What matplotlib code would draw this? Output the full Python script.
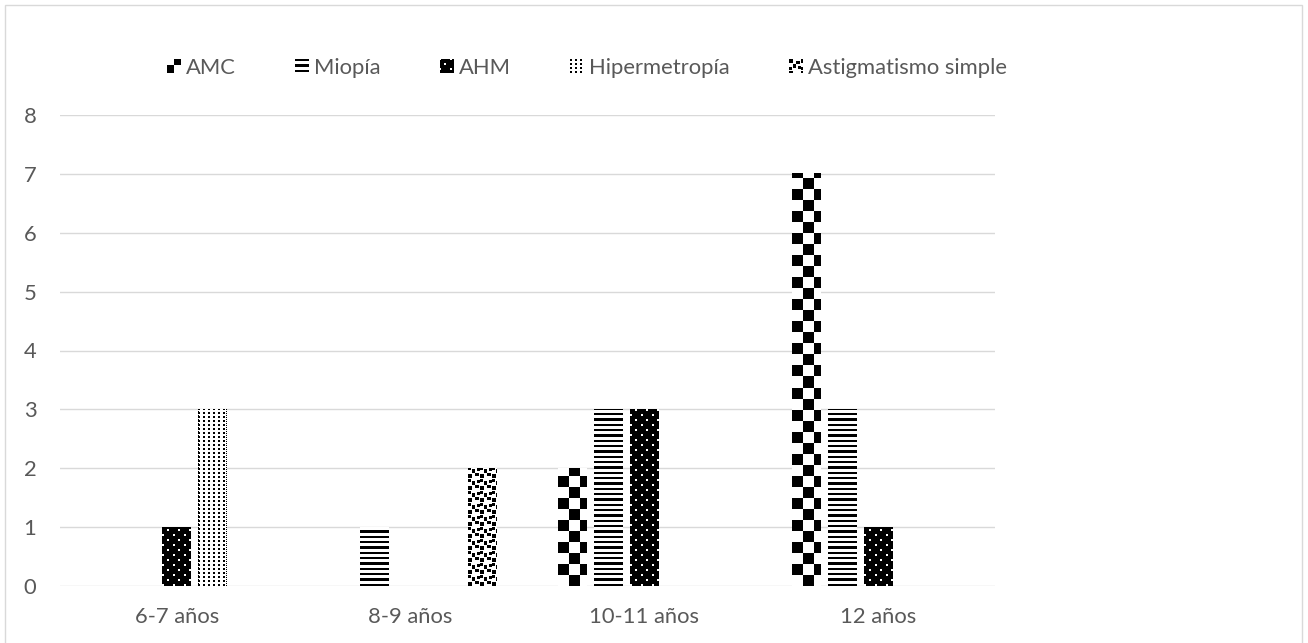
import numpy as np
import matplotlib
matplotlib.use("Agg")
import matplotlib.pyplot as plt
from matplotlib.patches import Rectangle, Patch
from matplotlib.legend_handler import HandlerBase

# cases per age group and refractive error
grupos = ["6-7 años", "8-9 años", "10-11 años", "12 años"]
series = ["AMC", "Miopía", "AHM", "Hipermetropía", "Astigmatismo simple"]
amc = [0, 0, 2, 7]
miopia = [0, 1, 3, 3]
ahm = [1, 0, 3, 1]
hipermetropia = [3, 0, 0, 0]
astigmatismo = [0, 2, 0, 0]
valores = [amc, miopia, ahm, hipermetropia, astigmatismo]
y_ticks = [0, 1, 2, 3, 4, 5, 6, 7, 8]

GRIS = "#595959"
GRID = "#d9d9d9"

plt.rcParams['font.family'] = ['Lato', 'DejaVu Sans']


# black/white pattern tiles, 1 = black pixel
def tablero():
    i, j = np.indices((22, 22))
    return (((i // 11) + (j // 11)) % 2).astype(float)


def rayas():
    filas = [1, 1, 0, 0, 0, 1, 1, 1, 0, 0, 0, 1, 1, 0, 0, 0]
    return np.repeat(np.array(filas, float)[:, None], 8, axis=1)


def puntos_blancos():
    t = np.ones((10, 11))
    t[0:2, 0:2] = 0
    t[5:7, 5:7] = 0
    return t


def puntos_negros():
    t = np.zeros((4, 5))
    t[0:2, 0:2] = 1
    return t


def confeti():
    t = np.zeros((12, 12))
    t[0:4, 0:4] = 1
    t[2:5, 7:11] = 1
    t[5:9, 4:7] = 1
    t[7:10, 9:12] = 1
    t[8:11, 0:3] = 1
    return t


tramas = [tablero(), rayas(), puntos_blancos(), puntos_negros(), confeti()]


def rellenar(tile, h, w, dy=0, dx=0):
    th, tw = tile.shape
    reps = (h // th + 2, w // tw + 2)
    big = np.tile(tile, reps)
    return big[dy:dy + h, dx:dx + w]


class HandlerTrama(HandlerBase):
    def __init__(self, tile, off=(0, 0)):
        super().__init__()
        self.tile = tile
        self.off = off

    def create_artists(self, legend, orig_handle, xdescent, ydescent,
                       width, height, fontsize, trans):
        px = 72.0 / legend.figure.dpi
        nx = max(1, int(round(width / px)))
        ny = max(1, int(round(height / px)))
        arr = rellenar(self.tile, ny, nx, *self.off)
        arts = []
        for r in range(ny):
            c = 0
            while c < nx:
                if arr[r, c] > 0:
                    c0 = c
                    while c < nx and arr[r, c] > 0:
                        c += 1
                    rect = Rectangle((-xdescent + c0 * px, -ydescent + (ny - 1 - r) * px),
                                     (c - c0) * px, px, facecolor="black",
                                     edgecolor="none", transform=trans)
                    arts.append(rect)
                else:
                    c += 1
        return arts


fig = plt.figure(figsize=(13.08, 6.43), dpi=100)
ax = fig.add_axes([60 / 1308, 1 - 586 / 643, 935 / 1308, 471 / 643])
ax.set_xlim(-0.5, len(grupos) - 0.5)
ax.set_ylim(0, 8)

x = np.arange(len(grupos))
paso = 0.154
ancho = 0.124

for s, vals in enumerate(valores):
    desp = (s - 2) * paso
    barras = ax.bar(x + desp, vals, ancho, facecolor="none", edgecolor="none", zorder=2)
    for b in barras:
        h = b.get_height()
        if h <= 0:
            continue
        x0, x1 = b.get_x(), b.get_x() + b.get_width()
        p0 = ax.transData.transform((x0, 0))
        p1 = ax.transData.transform((x1, h))
        wpx = int(round(p1[0] - p0[0]))
        hpx = int(round(p1[1] - p0[1]))
        img = rellenar(tramas[s], hpx, wpx)
        if s == 3:
            # dotted side edges on the hipermetropía bars
            img[::2, 0] = 1
            img[::2, -1] = 1
        ax.imshow(img, cmap="gray_r", vmin=0, vmax=1, extent=(x0, x1, 0, h),
                  origin="lower", interpolation="nearest", aspect="auto", zorder=2)

ax.set_xlim(-0.5, len(grupos) - 0.5)
ax.set_ylim(0, 8)
ax.set_xticks(x)
ax.set_xticklabels(grupos)
ax.set_yticks(y_ticks)
ax.grid(axis="y", color=GRID, linewidth=1.0, zorder=0)
ax.set_axisbelow(True)
for sp in ax.spines.values():
    sp.set_visible(False)
ax.tick_params(axis="both", length=0, labelsize=15.8, labelcolor=GRIS)
ax.tick_params(axis="y", pad=17)
ax.tick_params(axis="x", pad=15)

# legend with the same fill patterns
handles = [Patch(label=n) for n in series]
offs = [(5, 4), (0, 0), (1, 1), (0, 0), (0, 0)]
hmap = {h: HandlerTrama(t, o) for h, t, o in zip(handles, tramas, offs)}
leg = fig.legend(handles=handles, labels=series, handler_map=hmap, loc="center",
                 bbox_to_anchor=(587 / 1308, 1 - 68 / 643), ncol=5, frameon=False,
                 fontsize=15.8, handlelength=0.62, handleheight=0.62,
                 handletextpad=0.25, columnspacing=2.7)
for t in leg.get_texts():
    t.set_color(GRIS)

# chart border
fig.add_artist(Rectangle((5 / 1308, -0.01), 1297 / 1308, 1 - 5 / 643 + 0.01,
                         transform=fig.transFigure, fill=False,
                         edgecolor=GRID, linewidth=1.0))

fig.savefig("out.png", dpi=100)
